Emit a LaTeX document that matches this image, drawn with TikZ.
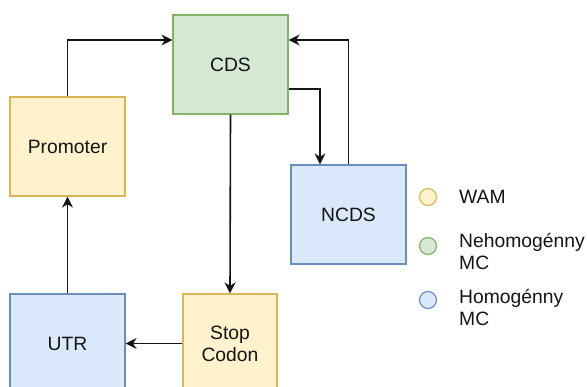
\documentclass[tikz,border=0pt]{standalone}
\usepackage{fontspec}
\setmainfont{Liberation Sans}
\usetikzlibrary{arrows.meta}
\definecolor{yfill}{HTML}{FFF2CC}
\definecolor{ydraw}{HTML}{D6B656}
\definecolor{gfill}{HTML}{D5E8D4}
\definecolor{gdraw}{HTML}{82B366}
\definecolor{bfill}{HTML}{DAE8FC}
\definecolor{bdraw}{HTML}{6C8EBF}
\definecolor{ink}{HTML}{141414}
\tikzset{
  block/.style={draw, line width=1.2pt, minimum height=99pt, inner sep=0pt,
    align=center, text=ink, font=\fontsize{19.3}{22}\selectfont},
  wam/.style={block, fill=yfill, draw=ydraw},
  nehom/.style={block, fill=gfill, draw=gdraw},
  hom/.style={block, fill=bfill, draw=bdraw},
  arr/.style={draw=ink, line width=1.6pt,
    -{Stealth[length=11pt,width=11pt,inset=3.5pt]}},
  dot/.style={circle, line width=1.2pt, minimum size=17pt, inner sep=0pt},
  legtext/.style={anchor=west, align=left, inner sep=0pt, text=ink,
    font=\fontsize{19.3}{22}\selectfont}
}
\begin{document}
\begin{tikzpicture}[x=1pt, y=-1pt]
\useasboundingbox (0,0) rectangle (587,386);
\begin{scope}
\clip (0,0) rectangle (587,386);
% blocks
\node[nehom, minimum width=115pt] (cds) at (230.5,64.5) {CDS};
\node[wam, minimum width=115pt] (prom) at (67.5,146.5) {Promoter};
\node[hom, minimum width=115pt] (ncds) at (348.5,214.5) {NCDS};
\node[wam, minimum width=94pt] (stop) at (230,343.5) {Stop\\Codon};
\node[hom, minimum width=115pt] (utr) at (67.5,343.5) {UTR};
% connectors
\draw[arr] (prom.north) |- ([yshift=24.5pt]cds.west);
\draw[arr] (ncds.north) |- ([yshift=24.5pt]cds.east);
\draw[arr] ([yshift=-24.5pt]cds.east) -| ([xshift=-28.5pt]ncds.north);
\draw[arr] (cds.south) -- (stop.north);
\draw[arr] (stop.west) -- (utr.east);
\draw[arr] (utr.north) -- (prom.south);
\end{scope}
% legend
\node[dot, fill=yfill, draw=ydraw] (d1) at (428,197) {};
\node[dot, fill=gfill, draw=gdraw] (d2) at (428,246) {};
\node[dot, fill=bfill, draw=bdraw] (d3) at (428,300) {};
\node[legtext] (l1) at (459,197) {WAM};
\node[legtext] (l2) at (459,251) {Nehomogénny\\MC};
\node[legtext] (l3) at (459,307) {Homogénny\\MC};
\end{tikzpicture}
\end{document}
